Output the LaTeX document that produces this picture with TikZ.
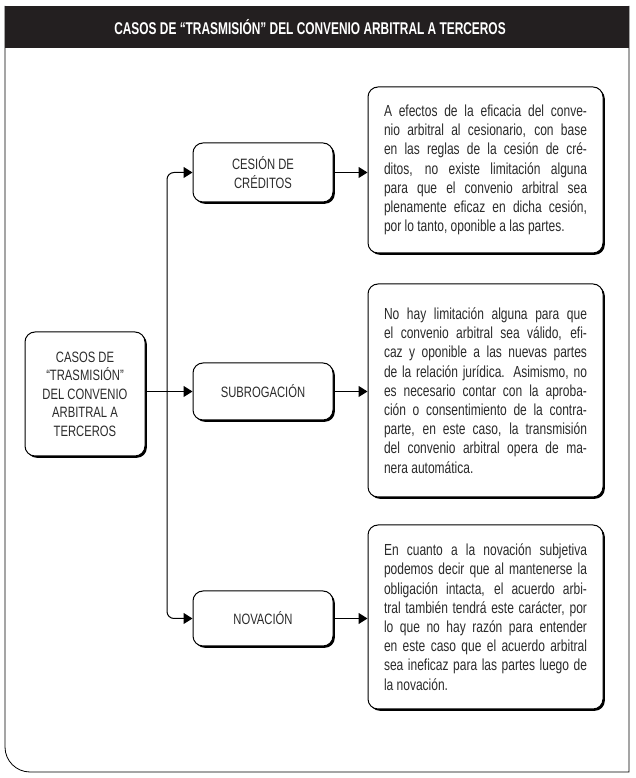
\documentclass[tikz,border=0pt]{standalone}
\usepackage{fontspec}
\setmainfont{Liberation Sans}[FakeStretch=0.75]
\newfontfamily\titulofont{Liberation Sans}[FakeStretch=0.7]
\usepackage{tikz}
\usetikzlibrary{
  arrows.meta,
  positioning,
  calc,
  shadows
}
\definecolor{tinta}{HTML}{2B2B2B}
\definecolor{faixa}{HTML}{231F20}

\begin{document}
\begin{tikzpicture}[
    x=1pt,y=1pt,
    caja/.style={
    draw=black,
    rounded corners=10pt,
    line width=1pt,
    fill=white,
    text=tinta,
    align=center,
    inner sep=0pt,
    font=\fontsize{15}{18.5}\selectfont,
    drop shadow={shadow xshift=1.8pt,shadow yshift=-1.8pt,fill=black,opacity=1}
    },
    nota/.style={
    caja,
    minimum width=235pt,
    text width=203pt,
    align=justify,
    font=\fontsize{16}{19.2}\selectfont
    },
    flecha/.style={-{Triangle[length=9pt,width=11pt]},line width=1pt}
    ]
    
    \useasboundingbox (0,0) rectangle (636,778);
    
    % marco y titulo
    \draw[line width=0.8pt] (5,772) -- (5,31) arc[start angle=180,end angle=270,radius=25] -- (629,6) -- (629,772);
    \fill[faixa] (4.6,730) rectangle (629.4,772);
    \node[text=white,font=\titulofont\bfseries\fontsize{17}{20}\selectfont] (titulo) at (310,751)
    {CASOS DE “TRASMISIÓN” DEL CONVENIO ARBITRAL A TERCEROS};
    
    \node[caja,minimum width=120pt,minimum height=124pt] (raiz) at (85,384)
    {CASOS DE\\“TRASMISIÓN”\\DEL CONVENIO\\ARBITRAL A\\TERCEROS};
    
    \node[caja,minimum width=140pt,minimum height=59pt] (cesion) at (263,605.5)
    {CESIÓN DE\\CRÉDITOS};
    
    \node[caja,minimum width=140pt,minimum height=57pt] (subrog) at (263,386.5)
    {SUBROGACIÓN};
    
    \node[caja,minimum width=140pt,minimum height=55pt] (novac) at (263,159.5)
    {NOVACIÓN};
    
    \node[nota,minimum height=166pt] (nota1) at (485.5,608)
    {A efectos de la eficacia del conve-\linebreak nio arbitral al cesionario, con base\linebreak en las reglas de la cesión de cré-\linebreak ditos, no existe limitación alguna\linebreak para que el convenio arbitral sea\linebreak plenamente eficaz en dicha cesión,\linebreak por lo tanto, oponible a las partes.};
    
    \node[nota,minimum height=213pt] (nota2) at (485.5,387.5)
    {No hay limitación alguna para que\linebreak el convenio arbitral sea válido, efi-\linebreak caz y oponible a las nuevas partes\linebreak de la relación jurídica. Asimismo, no\linebreak es necesario contar con la aproba-\linebreak ción o consentimiento de la contra-\linebreak parte, en este caso, la transmisión\linebreak del convenio arbitral opera de ma-\linebreak nera automática.};
    
    \node[nota,minimum height=184pt] (nota3) at (485.5,161)
    {En cuanto a la novación subjetiva\linebreak podemos decir que al mantenerse la\linebreak obligación intacta, el acuerdo arbi-\linebreak tral también tendrá este carácter, por\linebreak lo que no hay razón para entender\linebreak en este caso que el acuerdo arbitral\linebreak sea ineficaz para las partes luego de\linebreak la novación.};
    
    \coordinate (tronco) at (167,386.5);
    
    \draw[flecha] (raiz.east |- subrog.west) -- (subrog.west);
    \draw[flecha,rounded corners=7pt] (tronco) |- (cesion.west);
    \draw[flecha,rounded corners=7pt] (tronco) |- (novac.west);
    
    \draw[flecha] (cesion.east) -- (cesion.east -| nota1.west);
    \draw[flecha] (subrog.east) -- (subrog.east -| nota2.west);
    \draw[flecha] (novac.east) -- (novac.east -| nota3.west);
    
    \end{tikzpicture}
\end{document}
